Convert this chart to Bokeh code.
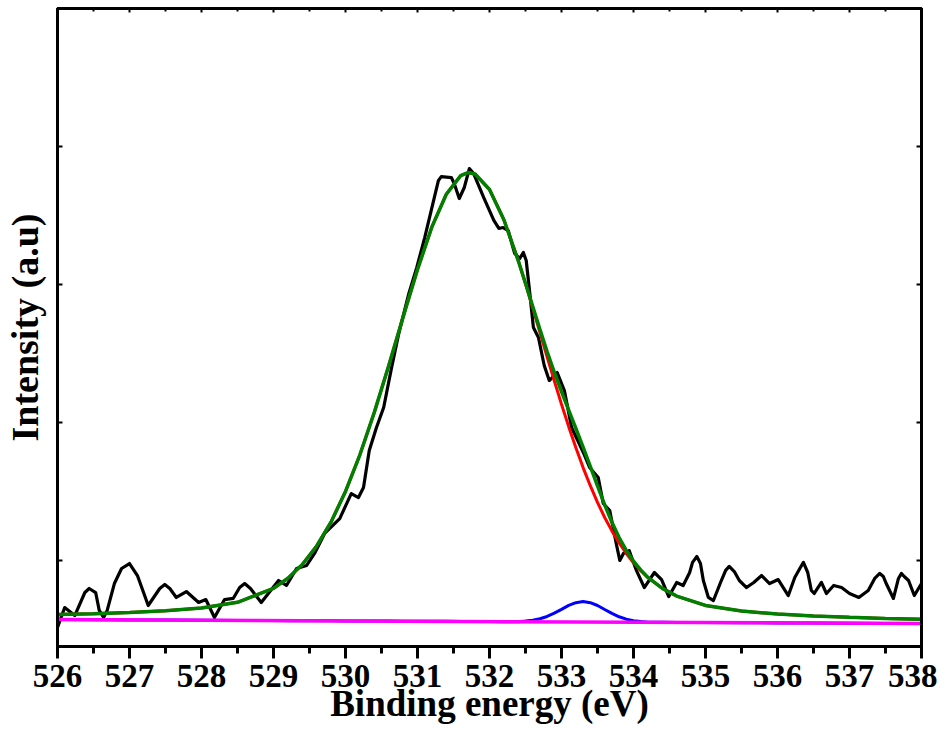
import numpy as np
from bokeh.plotting import figure
from bokeh.models import LinearAxis, FixedTicker, Range1d, CustomJSTickFormatter
from bokeh.embed import file_html
from bokeh.resources import INLINE

# ---- data ----
x_ticks = [526, 527, 528, 529, 530, 531, 532, 533, 534, 535, 536, 537, 538]
x_minor = [526.5, 527.5, 528.5, 529.5, 530.5, 531.5, 532.5, 533.5, 534.5,
           535.5, 536.5, 537.5]
y_ticks = [1000, 2000, 3000, 4000]

# measured spectrum (black)
raw_x = [526.00, 526.10, 526.24, 526.38, 526.44, 526.53, 526.58, 526.64, 526.69,
         526.79, 526.89, 527.00, 527.11, 527.26, 527.42, 527.49, 527.56, 527.65,
         527.79, 527.96, 528.06, 528.18, 528.32, 528.44, 528.53, 528.60, 528.68,
         528.83, 529.07, 529.18, 529.32, 529.46, 529.57, 529.71, 529.92, 530.08,
         530.18, 530.25, 530.33, 530.43, 530.53, 530.64, 530.74, 530.88, 530.99,
         531.10, 531.19, 531.29, 531.33, 531.47, 531.51, 531.58, 531.65, 531.72,
         531.78, 531.92, 532.06, 532.13, 532.19, 532.26, 532.35, 532.42, 532.47,
         532.51, 532.56, 532.61, 532.68, 532.76, 532.83, 532.94, 533.04, 533.14,
         533.31, 533.39, 533.51, 533.58, 533.67, 533.76, 533.81, 533.86, 533.94,
         534.04, 534.15, 534.29, 534.39, 534.49, 534.60, 534.69, 534.78, 534.82,
         534.88, 534.93, 534.97, 535.04, 535.11, 535.22, 535.28, 535.33, 535.40,
         535.47, 535.57, 535.67, 535.78, 535.89, 536.01, 536.15, 536.24, 536.31,
         536.36, 536.42, 536.47, 536.51, 536.61, 536.68, 536.78, 536.89, 537.00,
         537.13, 537.26, 537.35, 537.42, 537.47, 537.51, 537.61, 537.68, 537.72,
         537.76, 537.82, 537.90, 538.00]
raw_y = [515, 659, 601, 768, 797, 768, 638, 587, 638,
         833, 942, 978, 891, 674, 797, 826, 797, 732,
         775, 696, 717, 587, 717, 725, 804, 833, 797,
         696, 855, 819, 942, 964, 1051, 1196, 1304, 1485,
         1456, 1529, 1797, 1964, 2109, 2398, 2645, 2935, 3123,
         3340, 3536, 3753, 3782, 3775, 3732, 3623, 3703, 3840,
         3804, 3630, 3464, 3406, 3413, 3391, 3225, 3188, 3232,
         3174, 2935, 2688, 2616, 2413, 2304, 2362, 2232, 1964,
         1775, 1674, 1601, 1413, 1362, 1123, 1000, 1051, 1072,
         928, 804, 913, 862, 739, 841, 819, 913, 986,
         1029, 978, 855, 732, 710, 855, 928, 957, 920,
         855, 804, 841, 891, 833, 862, 746, 877, 942,
         986, 913, 783, 761, 841, 761, 819, 804, 761,
         732, 783, 870, 906, 884, 833, 725, 870, 906,
         884, 855, 746, 833]

# background (magenta), straight line end points
base_x = [526, 538]
base_y = [572, 543]

# fitted components, heights above the background
fit_x = [526.0, 526.5, 527.0, 527.5, 528.0, 528.5, 529.0, 529.2, 529.4, 529.6,
         529.8, 530.0, 530.2, 530.4, 530.6, 530.8, 531.0, 531.2, 531.4, 531.6,
         531.7, 531.8, 532.0, 532.2, 532.4, 532.5, 532.6, 532.7, 532.8, 532.9,
         533.0, 533.1, 533.2, 533.3, 533.4, 533.5, 533.6, 533.7, 533.8, 533.9,
         534.0, 534.1, 534.2, 534.4, 534.6, 535.0, 535.5, 536.0, 536.5, 537.0,
         537.5, 538.0]
red_net = [37, 44, 54, 67, 88, 131, 233, 307, 407, 542,
           717, 938, 1204, 1512, 1850, 2204, 2549, 2858, 3095, 3230,
           3253, 3243, 3131, 2912, 2615, 2448, 2275, 2097, 1920, 1746,
           1577, 1415, 1262, 1119, 988, 867, 758, 661, 574, 498,
           431, 374, 325, 246, 191, 124, 85, 64, 52, 43,
           36, 31]
blue_net = [0, 0, 0, 0, 0, 0, 0, 0, 0, 0,
            0, 0, 0, 0, 0, 0, 0, 0, 0, 0,
            0, 0, 0, 0, 0, 5, 11, 22, 39, 63,
            91, 120, 140, 148, 140, 120, 91, 63, 39, 22,
            11, 5, 0, 0, 0, 0, 0, 0, 0, 0,
            0, 0]

fx = np.array(fit_x)
base_fit = np.interp(fx, base_x, base_y)
red_y = base_fit + np.array(red_net)
blue_y = base_fit + np.array(blue_net)
green_y = base_fit + np.array(red_net) + np.array(blue_net)

FONT = "Liberation Serif"
blank = CustomJSTickFormatter(code="return ''")

p = figure(frame_width=864, frame_height=638,
           x_range=Range1d(526, 538), y_range=Range1d(376.8, 5000),
           output_backend="svg", toolbar_location=None,
           min_border_left=56, min_border_right=16, min_border_top=8,
           min_border_bottom=80, background_fill_color="white")
p.xgrid.visible = False
p.ygrid.visible = False
p.outline_line_color = "black"
p.outline_line_width = 3

# bottom axis
xa = p.xaxis[0]
xa.ticker = FixedTicker(ticks=x_ticks, minor_ticks=x_minor)
xa.axis_line_width = 3
xa.major_tick_line_width = 3
xa.minor_tick_line_width = 3
xa.major_tick_out = 12
xa.major_tick_in = 0
xa.minor_tick_out = 7
xa.minor_tick_in = 0
xa.major_label_text_font = FONT
xa.major_label_text_font_style = "bold"
xa.major_label_text_font_size = "33px"
xa.major_label_text_color = "black"
xa.major_label_standoff = 6
xa.axis_label = "Binding energy (eV)"
xa.axis_label_text_font = FONT
xa.axis_label_text_font_style = "bold"
xa.axis_label_text_font_size = "37px"
xa.axis_label_text_color = "black"
xa.axis_label_standoff = -7

# left axis
ya = p.yaxis[0]
ya.ticker = FixedTicker(ticks=y_ticks, minor_ticks=[])
ya.formatter = blank
ya.axis_line_width = 3
ya.major_tick_line_width = 2
ya.major_tick_in = 5
ya.major_tick_out = 0
ya.minor_tick_in = 0
ya.minor_tick_out = 0
ya.major_label_text_font_size = "1px"
ya.major_label_standoff = 0
ya.axis_label = "Intensity (a.u)"
ya.axis_label_text_font = FONT
ya.axis_label_text_font_style = "bold"
ya.axis_label_text_font_size = "38px"
ya.axis_label_text_color = "black"
ya.axis_label_standoff = 12

# top axis
top = LinearAxis(ticker=FixedTicker(ticks=x_ticks, minor_ticks=x_minor),
                 formatter=blank,
                 axis_line_width=3, major_tick_line_width=2, minor_tick_line_width=2,
                 major_tick_in=4, major_tick_out=0, minor_tick_in=3, minor_tick_out=0,
                 major_label_text_font_size="1px", major_label_standoff=0)
p.add_layout(top, "above")

# right axis
right = LinearAxis(ticker=FixedTicker(ticks=y_ticks, minor_ticks=[]),
                   formatter=blank,
                   axis_line_width=3, major_tick_line_width=2,
                   major_tick_in=5, major_tick_out=0, minor_tick_in=0, minor_tick_out=0,
                   major_label_text_font_size="1px", major_label_standoff=0)
p.add_layout(right, "right")

# curves
p.line(raw_x, raw_y, line_color="black", line_width=3.2, line_join="round")
p.line(fit_x, red_y, line_color="#ff0000", line_width=3)
p.line(fit_x, blue_y, line_color="#0000ff", line_width=3)
p.line(base_x, base_y, line_color="#ff00ff", line_width=3.5)
p.line(fit_x, green_y, line_color="#008000", line_width=3.5)

open("out.html", "w").write(file_html(p, INLINE))
